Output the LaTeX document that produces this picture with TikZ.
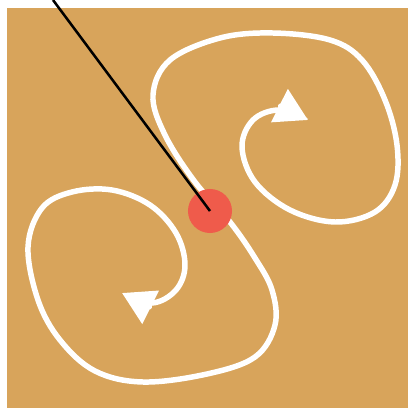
\documentclass[tikz,border=0pt]{standalone}
\usepackage{tikz}
\usetikzlibrary{arrows.meta}
\definecolor{sand}{HTML}{D8A45B}
\definecolor{dotred}{HTML}{EF5B4B}

\begin{document}
\begin{tikzpicture}[x=0.025cm,y=-0.025cm,
  flow/.style={white,line width=3.9pt,line cap=round,{Triangle[length=0.8cm,width=0.9cm]}-{Triangle[length=0.8cm,width=0.9cm]}},
  pin/.style={black,line width=1.8pt}]
\useasboundingbox (0,0) rectangle (408,408);
\fill[sand] (7,8) rectangle (408,408);
\draw[flow] plot[smooth,tension=0.6] coordinates {(122,293) (152,303) (176,290) (185,265) (176,233) (150,205) (112,190) (72,192) (42,208) (28,247) (38,300) (60,340) (95,371) (143,382) (207,374) (255,357) (275,325) (272,290) (255,258) (230,222) (195,182) (165,135) (153,95) (170,60) (220,38) (273,33) (330,40) (362,60) (385,100) (397,145) (395,185) (375,212) (335,222) (290,210) (255,182) (242,147) (253,120) (279,110) (308,120)};
\node[circle,fill=dotred,minimum size=1.1cm,inner sep=0pt] (dot) at (210,211) {};
\coordinate (top) at (53,0);
\draw[pin] (top) -- (dot.center);
\end{tikzpicture}
\end{document}
